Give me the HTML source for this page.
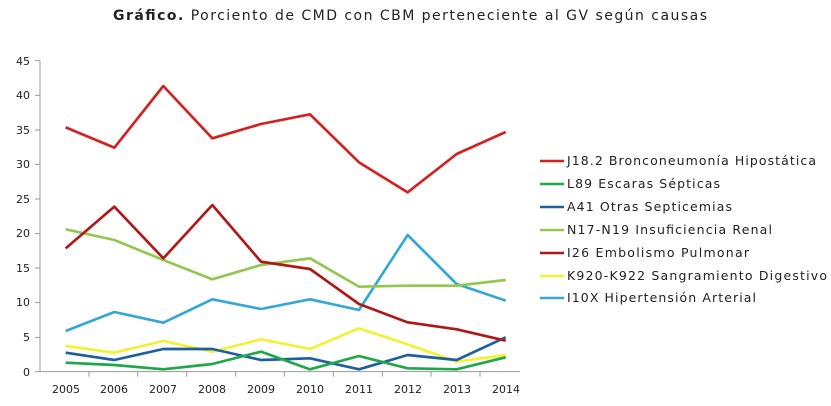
<!DOCTYPE html>
<html><head><meta charset="utf-8"><style>
body{margin:0;background:#fff;width:831px;height:401px;overflow:hidden}
text{font-family:"DejaVu Sans","Liberation Sans",sans-serif;fill:#222}
</style></head><body>
<svg width="831" height="401" viewBox="0 0 831 401">
<text x="113" y="20" font-size="14" textLength="594" lengthAdjust="spacing"><tspan font-weight="bold">Gráfico.</tspan> Porciento de CMD con CBM perteneciente al GV según causas</text>
<g font-size="11" text-anchor="end">
<text x="30" y="376">0</text><text x="30" y="341">5</text><text x="30" y="306">10</text><text x="30" y="272">15</text><text x="30" y="237">20</text><text x="30" y="203">25</text><text x="30" y="168">30</text><text x="30" y="134">35</text><text x="30" y="99">40</text><text x="30" y="65">45</text>
</g>
<g font-size="11" text-anchor="middle">
<text x="66" y="393">2005</text><text x="114" y="393">2006</text><text x="163" y="393">2007</text><text x="212" y="393">2008</text><text x="261" y="393">2009</text><text x="310" y="393">2010</text><text x="359" y="393">2011</text><text x="408" y="393">2012</text><text x="457" y="393">2013</text><text x="506" y="393">2014</text>
</g>
<g transform="translate(0,50) scale(0.33333)" fill="none" stroke-linejoin="round">
<g stroke="#999" stroke-width="3">
<line x1="120" y1="32" x2="120" y2="965"/>
<line x1="120" y1="965" x2="1560" y2="965"/>
<path d="M105 32h15M105 136h15M105 240h15M105 343h15M105 447h15M105 551h15M105 654h15M105 758h15M105 862h15M105 965h15"/>
<path d="M267 965v15M413 965v15M560 965v15M707 965v15M853 965v15M1000 965v15M1147 965v15M1293 965v15M1440 965v15"/>
</g>
<g stroke-width="8">
<polyline stroke="#33a8d8" points="197,843 343,786 490,818 637,748 783,777 930,748 1077,780 1223,555 1370,702 1517,752"/>
<polyline stroke="#f2f232" points="197,888 343,908 490,873 637,905 783,868 930,897 1077,835 1223,883 1370,935 1517,915"/>
<polyline stroke="#92c84e" points="197,538 343,570 490,630 637,688 783,645 930,625 1077,710 1223,707 1370,707 1517,690"/>
<polyline stroke="#1f5fa0" points="197,908 343,930 490,897 637,897 783,930 930,925 1077,958 1223,915 1370,930 1517,862"/>
<polyline stroke="#1ea84a" points="197,938 343,945 490,958 637,942 783,905 930,958 1077,918 1223,955 1370,958 1517,922"/>
<polyline stroke="#b01818" points="197,595 343,470 490,625 637,465 783,635 930,657 1077,762 1223,817 1370,838 1517,872"/>
<polyline stroke="#d62020" points="197,232 343,293 490,108 637,265 783,222 930,193 1077,337 1223,427 1370,312 1517,246"/>
</g>
</g>
<g stroke-width="2.5">
<line x1="540" y1="161" x2="564" y2="161" stroke="#d62020"/>
<line x1="540" y1="184" x2="564" y2="184" stroke="#1ea84a"/>
<line x1="540" y1="207" x2="564" y2="207" stroke="#1f5fa0"/>
<line x1="540" y1="230" x2="564" y2="230" stroke="#92c84e"/>
<line x1="540" y1="253" x2="564" y2="253" stroke="#b01818"/>
<line x1="540" y1="276" x2="564" y2="276" stroke="#f2f232"/>
<line x1="540" y1="298" x2="564" y2="298" stroke="#33a8d8"/>
</g>
<g font-size="12.5" lengthAdjust="spacing">
<text x="567" y="165" textLength="249">J18.2 Bronconeumonía Hipostática</text>
<text x="567" y="188" textLength="153">L89 Escaras Sépticas</text>
<text x="567" y="211" textLength="165">A41 Otras Septicemias</text>
<text x="567" y="234" textLength="205">N17-N19 Insuficiencia Renal</text>
<text x="567" y="257" textLength="182">I26 Embolismo Pulmonar</text>
<text x="567" y="280" textLength="260">K920-K922 Sangramiento Digestivo</text>
<text x="567" y="302" textLength="189">I10X Hipertensión Arterial</text>
</g>
</svg>
</body></html>
